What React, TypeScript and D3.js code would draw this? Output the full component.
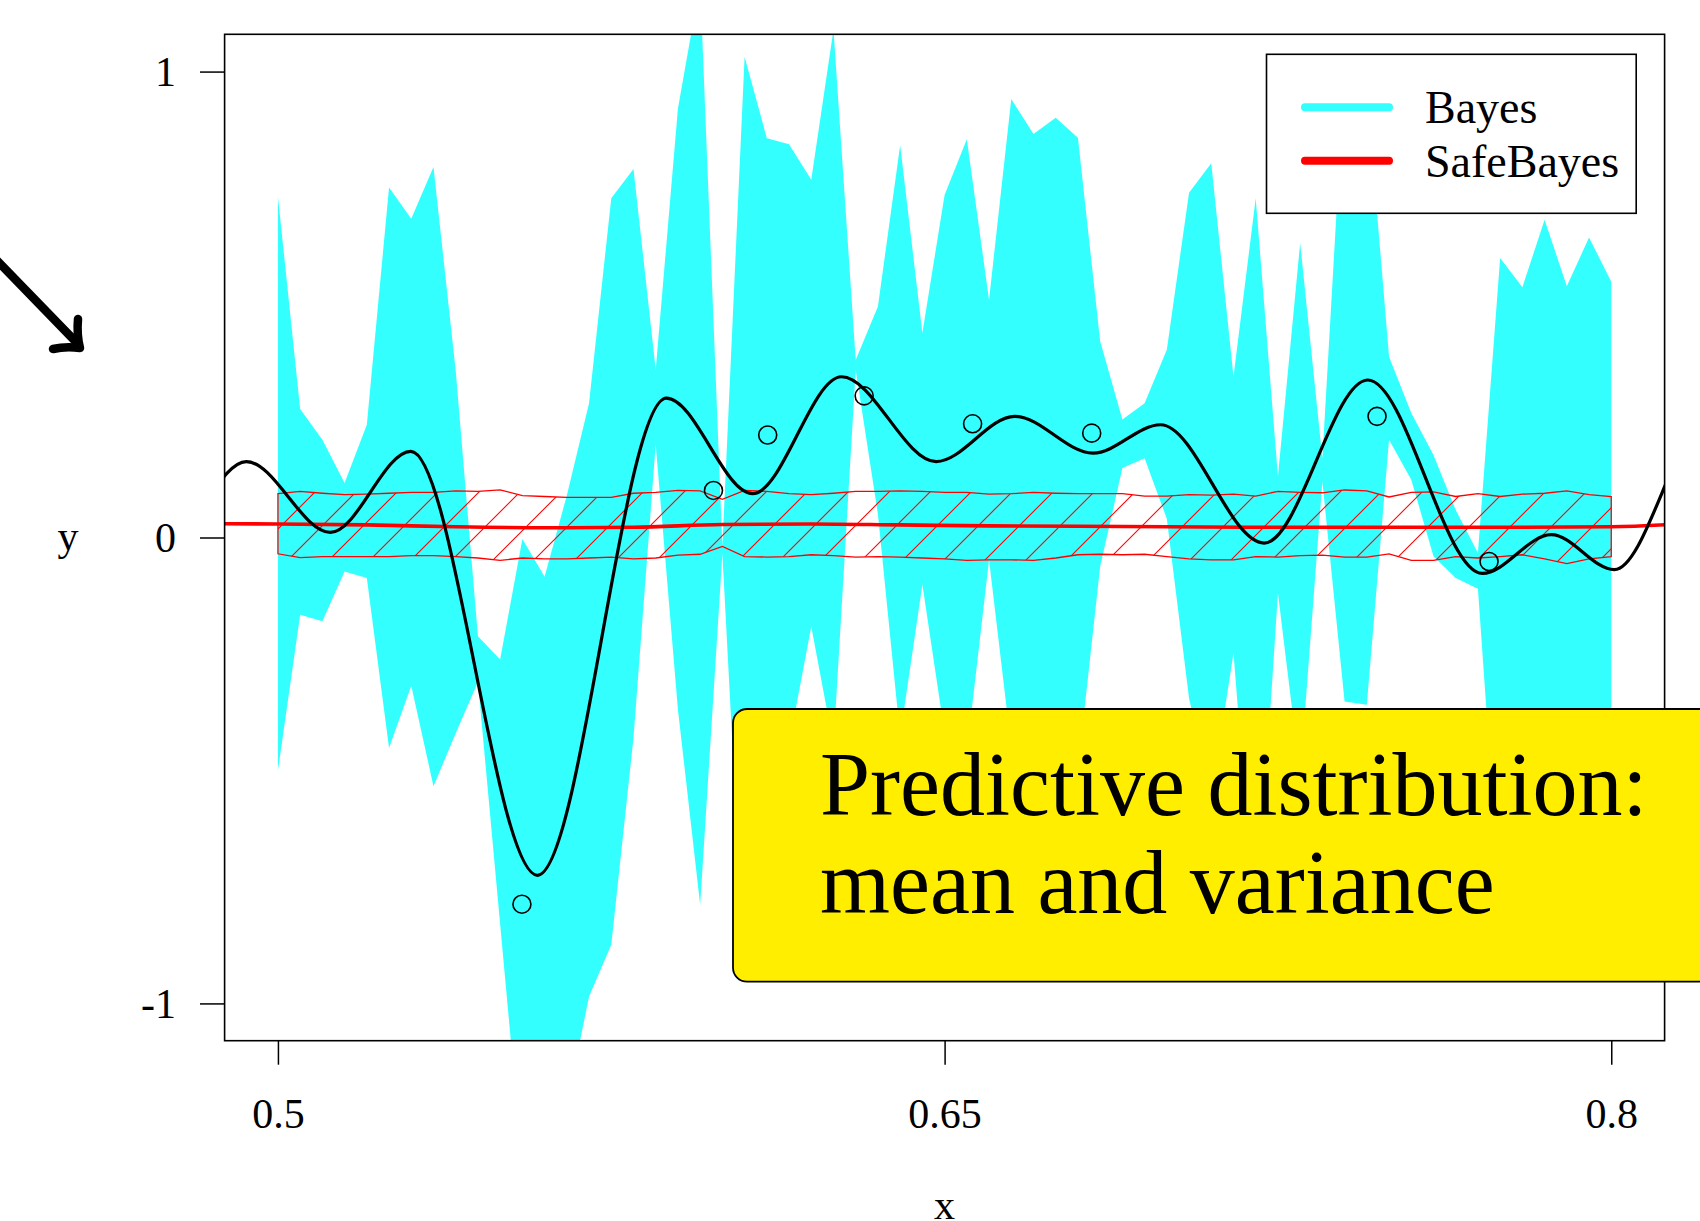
import React, { useEffect, useRef } from "react";
import * as d3 from "d3";

const FONT = "'Liberation Serif', 'Times New Roman', serif";
const tWidth = 1700;
const tHeight = 1221;

// grid on which both predictive bands were evaluated
const xGrid = d3.range(61).map((i) => 0.5 + i * 0.005);

// Bayes predictive band (cyan)
const bayesUpper = [
  0.732, 0.276, 0.21, 0.117, 0.242, 0.751, 0.684, 0.795, 0.358, -0.212,
  -0.262, -0.003, -0.084, 0.09, 0.288, 0.728, 0.791, 0.36, 0.921, 1.19,
  -0.019, 1.032, 0.857, 0.844, 0.768, 1.09, 0.381, 0.496, 0.842, 0.439,
  0.735, 0.855, 0.51, 0.941, 0.866, 0.901, 0.858, 0.421, 0.253, 0.288,
  0.403, 0.74, 0.803, 0.345, 0.728, 0.131, 0.632, 0.17, 1.0, 0.96,
  0.388, 0.267, 0.177, 0.059, -0.033, 0.6, 0.537, 0.682, 0.539, 0.644,
  0.549,
];
const bayesLower = [
  -0.5, -0.166, -0.18, -0.073, -0.087, -0.452, -0.318, -0.534, -0.42, -0.31,
  -0.83, -1.35, -1.3, -1.22, -0.985, -0.874, -0.43, 0.2, -0.369, -0.788,
  -0.035, -0.94, -0.75, -0.443, -0.191, -0.445, 0.36, 0.05, -0.426, -0.101,
  -0.42, -0.461, -0.048, -0.45, -0.6, -0.55, -0.496, -0.062, 0.149, 0.17,
  0.04, -0.345, -0.556, -0.248, -0.85, -0.119, -0.51, 0.12, -0.352, -0.359,
  0.21, 0.124, -0.04, -0.087, -0.11, -0.79, -0.72, -0.8, -0.74, -0.82,
  -0.76,
];

// SafeBayes predictive band (red hatched)
const safeUpper = [
  0.094, 0.099, 0.095, 0.092, 0.093, 0.095, 0.097, 0.097, 0.1, 0.099, 0.102,
  0.09, 0.088, 0.086, 0.086, 0.086, 0.095, 0.097, 0.101, 0.1, 0.082,
  0.101, 0.099, 0.094, 0.092, 0.095, 0.099, 0.099, 0.1, 0.099, 0.097,
  0.097, 0.093, 0.094, 0.097, 0.095, 0.094, 0.094, 0.094, 0.089, 0.089, 0.092,
  0.091, 0.093, 0.089, 0.099, 0.097, 0.096, 0.102, 0.1, 0.087, 0.097,
  0.098, 0.088, 0.094, 0.088, 0.093, 0.095, 0.1, 0.092, 0.088,
];
const safeLower = [
  -0.035, -0.043, -0.041, -0.041, -0.041, -0.041, -0.039, -0.039, -0.041, -0.044, -0.049,
  -0.044, -0.046, -0.046, -0.044, -0.042, -0.046, -0.044, -0.038, -0.036, -0.019,
  -0.041, -0.042, -0.041, -0.037, -0.039, -0.042, -0.041, -0.042, -0.044, -0.046,
  -0.049, -0.048, -0.048, -0.049, -0.044, -0.037, -0.036, -0.037, -0.036, -0.041, -0.046,
  -0.048, -0.048, -0.041, -0.042, -0.039, -0.038, -0.042, -0.042, -0.035, -0.049,
  -0.049, -0.041, -0.044, -0.041, -0.037, -0.046, -0.056, -0.046, -0.041,
];

// SafeBayes predictive mean
const safeMeanX = [0.48, 0.5, 0.52, 0.54, 0.56, 0.58, 0.6, 0.62, 0.64, 0.66, 0.68, 0.7, 0.72, 0.74, 0.76, 0.78, 0.8, 0.82];
const safeMeanY = [0.03, 0.029, 0.027, 0.023, 0.021, 0.022, 0.028, 0.029, 0.027, 0.025, 0.024, 0.023, 0.022, 0.022, 0.022, 0.022, 0.023, 0.032];

// true regression function (turning points)
const truthX = [
  0.484, 0.4929, 0.5118, 0.5299, 0.5584, 0.5874, 0.6068, 0.6268, 0.6481,
  0.6658, 0.6834, 0.6986, 0.7219, 0.7452, 0.771, 0.7865, 0.8007, 0.812, 0.8145,
];
const truthY = [
  0.08, 0.163, 0.011, 0.185, -0.725, 0.299, 0.094, 0.345, 0.163,
  0.26, 0.181, 0.242, -0.012, 0.338, -0.077, 0.006, -0.069, 0.109, 0.17,
];

// observed data
const pointsX = [0.5549, 0.598, 0.6102, 0.6319, 0.6563, 0.6831, 0.7473, 0.7725];
const pointsY = [-0.787, 0.101, 0.22, 0.304, 0.244, 0.224, 0.26, -0.0515];

const xTicks = [0.5, 0.65, 0.8];
const yTicks = [-1, 0, 1];
const legendLabels = ["Bayes", "SafeBayes"];
const legendColors = ["#33ffff", "#ff0000"];

const App = () => {
  const xAxisRef = useRef<SVGGElement>(null);
  const yAxisRef = useRef<SVGGElement>(null);

  const margin = { top: 34.3, right: 35.4, bottom: 180.3, left: 224.6 };
  const left = margin.left;
  const right = tWidth - margin.right;
  const top = margin.top;
  const bottom = tHeight - margin.bottom;

  const x = d3.scaleLinear().domain([0.488, 0.812]).range([left, right]);
  const y = d3.scaleLinear().domain([-1.08, 1.08]).range([bottom, top]);

  const bayes = xGrid.map((v, i) => ({ x: v, lo: bayesLower[i], hi: bayesUpper[i] }));
  const safe = xGrid.map((v, i) => ({ x: v, lo: safeLower[i], hi: safeUpper[i] }));

  const band = d3
    .area<{ x: number; lo: number; hi: number }>()
    .x((d) => x(d.x))
    .y0((d) => y(d.lo))
    .y1((d) => y(d.hi));

  const meanLine = d3
    .line<number>()
    .x((d, i) => x(safeMeanX[i]))
    .y((d) => y(d))
    .curve(d3.curveMonotoneX);

  const truthLine = d3
    .line<number>()
    .x((d, i) => x(truthX[i]))
    .y((d) => y(d))
    .curve(d3.curveMonotoneX);

  // 45 degree hatching of the SafeBayes band
  const hatchStep = 41;
  const hatchOrigin = 848;
  const hx0 = x(0.5) - 80;
  const hx1 = x(0.8) + 80;
  const hatch = d3.range(-30, 60).map((k) => hatchOrigin + k * hatchStep);

  useEffect(() => {
    const gx = d3.select(xAxisRef.current);
    gx.call(
      d3
        .axisBottom(x)
        .tickValues(xTicks)
        .tickSize(24)
        .tickPadding(33)
        .tickFormat((d) => String(d))
    );
    gx.select(".domain").remove();
    gx.attr("font-size", 42).attr("font-family", FONT);
    gx.selectAll("line").attr("stroke", "#000").attr("stroke-width", 1.5);
    gx.selectAll("text").attr("fill", "#000");

    const gy = d3.select(yAxisRef.current);
    gy.call(
      d3
        .axisLeft(y)
        .tickValues(yTicks)
        .tickSize(24.6)
        .tickPadding(24)
        .tickFormat((d) => String(d))
    );
    gy.select(".domain").remove();
    gy.attr("font-size", 42).attr("font-family", FONT);
    gy.selectAll("line").attr("stroke", "#000").attr("stroke-width", 1.5);
    gy.selectAll("text").attr("fill", "#000").attr("dy", "0.33em");
  }, []);

  return (
    <div id="chartD3">
      <svg
        width={tWidth}
        height={tHeight}
        style={{ position: "absolute", left: 0, top: 0, background: "#fff" }}
        fontFamily={FONT}
      >
        <defs>
          <clipPath id="plotClip">
            <rect x={left} y={top} width={right - left} height={bottom - top} />
          </clipPath>
          <clipPath id="safeClip">
            <path d={band(safe) || ""} />
          </clipPath>
        </defs>

        <g clipPath="url(#plotClip)">
          <path d={band(bayes) || ""} fill="#33ffff" stroke="none" />
          <g clipPath="url(#safeClip)">
            {hatch.map((c) => (
              <line key={c} x1={hx0} y1={c - hx0} x2={hx1} y2={c - hx1} stroke="#ff0000" strokeWidth={1.1} />
            ))}
          </g>
          <path d={band(safe) || ""} fill="none" stroke="#ff0000" strokeWidth={1.3} />
          <path d={meanLine(safeMeanY) || ""} fill="none" stroke="#ff0000" strokeWidth={3.6} />
          <path d={truthLine(truthY) || ""} fill="none" stroke="#000" strokeWidth={3.2} />
          {pointsY.map((d, i) => (
            <circle key={i} cx={x(pointsX[i])} cy={y(d)} r={9} fill="none" stroke="#000" strokeWidth={1.6} />
          ))}
        </g>

        <rect x={left} y={top} width={right - left} height={bottom - top} fill="none" stroke="#000" strokeWidth={1.6} />

        <g ref={xAxisRef} transform={`translate(0, ${bottom})`} />
        <g ref={yAxisRef} transform={`translate(${left}, 0)`} />

        <text x={(left + right) / 2} y={1219} fontSize={42} textAnchor="middle">x</text>
        <text x={68} y={550} fontSize={42} textAnchor="middle">y</text>

        {/* legend */}
        <g>
          <rect x={1266.5} y={54.3} width={369.7} height={159} fill="#fff" stroke="#000" strokeWidth={1.6} />
          {legendLabels.map((label, i) => (
            <g key={label} transform={`translate(0, ${107.3 + i * 53.4})`}>
              <line x1={1305} x2={1389} y1={0} y2={0} stroke={legendColors[i]} strokeWidth={8} strokeLinecap="round" />
              <text x={1425} y={16} fontSize={46}>{label}</text>
            </g>
          ))}
        </g>

        {/* annotation box */}
        <rect x={733} y={709} width={1100} height={272.7} rx={14} fill="#ffee00" stroke="#000" strokeWidth={1.8} />
        <text x={820} y={815} fontSize={90}>Predictive distribution:</text>
        <text x={820} y={913} fontSize={90}>mean and variance</text>

        {/* pointer arrow */}
        <g fill="none" stroke="#000" strokeWidth={8.5} strokeLinecap="round" strokeLinejoin="round">
          <path d="M -20 243 L 77 343" />
          <path d="M 78 319 C 77 330 78 340 80 348 C 71 347 62 347 53 349" />
        </g>
      </svg>
    </div>
  );
};

export default App;
